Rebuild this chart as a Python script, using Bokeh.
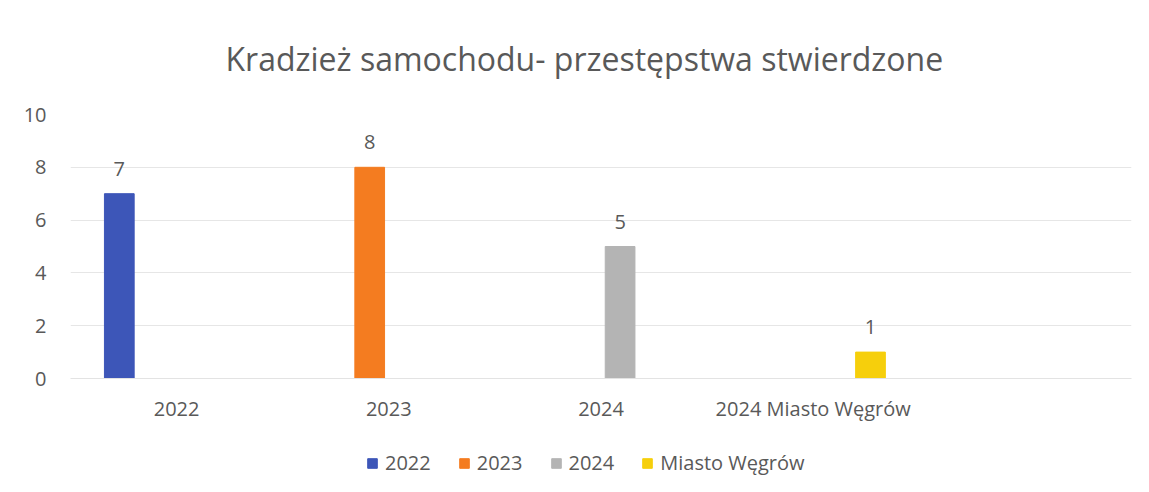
from bokeh.plotting import figure
from bokeh.layouts import column
from bokeh.models import ColumnDataSource, FactorRange, Legend, LegendItem, LabelSet, Range1d, Title
from bokeh.transform import dodge
from bokeh.core.properties import value
from bokeh.embed import file_html
from bokeh.resources import INLINE

categories = ["2022", "2023", "2024", "2024 Miasto Węgrów"]
series_names = ["2022", "2023", "2024", "Miasto Węgrów"]
v2022 = [7, 0, 0, 0]
v2023 = [0, 8, 0, 0]
v2024 = [0, 0, 5, 0]
vmiasto = [0, 0, 0, 1]
series_values = [v2022, v2023, v2024, vmiasto]
colors = ["#3D56B8", "#F47C20", "#B4B4B4", "#F6CF0C"]
y_ticks = [0, 2, 4, 6, 8, 10]

FONT = "Open Sans"
TXT = "#595959"

factors = categories + [" "]
p = figure(frame_width=1061, frame_height=264, x_range=FactorRange(*factors), y_range=Range1d(0, 10),
           output_backend="svg", toolbar_location=None,
           min_border_left=70, min_border_right=2, min_border_top=10, min_border_bottom=45)

p.title = Title(text="Kradzież samochodu- przestępstwa stwierdzone", align="left",
                text_font=FONT, text_font_size="32px", text_font_style="normal",
                text_color=TXT, standoff=69, offset=155)
p.x_range.range_padding = 0
p.x_range.factor_padding = 0

offsets = [-0.27, -0.09, 0.09, 0.27]
for name, vals, col, off in zip(series_names, series_values, colors, offsets):
    src = ColumnDataSource(dict(x=categories, top=vals))
    p.vbar(x=dodge("x", off, range=p.x_range), top="top", width=0.14, source=src,
           fill_color=col, line_color=col)
    nz = [(c, v) for c, v in zip(categories, vals) if v != 0]
    lsrc = ColumnDataSource(dict(x=[c for c, _ in nz], y=[v for _, v in nz],
                                 t=[str(v) for _, v in nz]))
    p.add_layout(LabelSet(x=dodge("x", off, range=p.x_range), y="y", text="t", source=lsrc,
                          text_align="center", text_baseline="bottom", y_offset=18,
                          text_font=value(FONT), text_font_size="20px", text_color=TXT))

p.yaxis.ticker = y_ticks
p.yaxis.axis_line_color = None
p.yaxis.major_tick_line_color = None
p.yaxis.minor_tick_line_color = None
p.yaxis.major_label_text_font = FONT
p.yaxis.major_label_text_font_size = "20px"
p.yaxis.major_label_text_color = TXT
p.yaxis.major_label_standoff = 18

p.xaxis.axis_line_color = "#E3E3E3"
p.xaxis.major_tick_line_color = None
p.xaxis.minor_tick_line_color = None
p.xaxis.major_label_text_font = FONT
p.xaxis.major_label_text_font_size = "20px"
p.xaxis.major_label_text_color = TXT
p.xaxis.major_label_standoff = 10

p.xgrid.grid_line_color = None
p.ygrid.grid_line_color = "#E6E6E6"
p.outline_line_color = None

# legend strip (separate figure so the legend sits below the axis)
pl = figure(width=1133, height=60, x_range=Range1d(0, 1), y_range=Range1d(100, 101),
            output_backend="svg", toolbar_location=None, x_axis_location=None,
            y_axis_location=None, min_border=0)
pl.grid.grid_line_color = None
pl.outline_line_color = None
items = []
for name, vals, col in zip(series_names, series_values, colors):
    r = pl.vbar(x=list(range(len(vals))), top=vals, width=0.5, fill_color=col, line_color=col)
    items.append(LegendItem(label=name, renderers=[r]))
legend = Legend(items=items, orientation="horizontal", location=(296, 8),
                label_text_font=FONT, label_text_font_size="20px", label_text_color=TXT,
                glyph_width=12, glyph_height=12, label_standoff=7, spacing=27,
                border_line_color=None, background_fill_alpha=0, margin=0, padding=0)
pl.add_layout(legend, "center")

open("out.html", "w").write(file_html(column(p, pl, spacing=0), INLINE))
